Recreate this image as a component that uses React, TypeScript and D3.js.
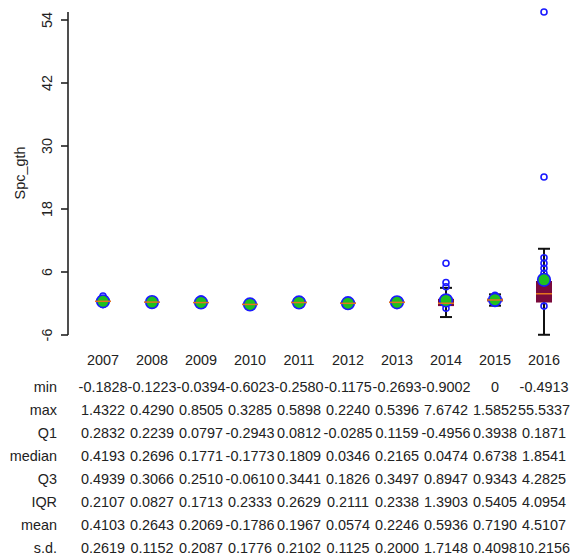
import React from "react";
import * as d3 from "d3";

const years = ["2007", "2008", "2009", "2010", "2011", "2012", "2013", "2014", "2015", "2016"];
const minV = [-0.1828, -0.1223, -0.0394, -0.6023, -0.258, -0.1175, -0.2693, -0.9002, 0, -0.4913];
const maxV = [1.4322, 0.429, 0.8505, 0.3285, 0.5898, 0.224, 0.5396, 7.6742, 1.5852, 55.5337];
const q1V = [0.2832, 0.2239, 0.0797, -0.2943, 0.0812, -0.0285, 0.1159, -0.4956, 0.3938, 0.1871];
const medianV = [0.4193, 0.2696, 0.1771, -0.1773, 0.1809, 0.0346, 0.2165, 0.0474, 0.6738, 1.8541];
const q3V = [0.4939, 0.3066, 0.251, -0.061, 0.3441, 0.1826, 0.3497, 0.8947, 0.9343, 4.2825];
const iqrV = [0.2107, 0.0827, 0.1713, 0.2333, 0.2629, 0.2111, 0.2338, 1.3903, 0.5405, 4.0954];
const meanV = [0.4103, 0.2643, 0.2069, -0.1786, 0.1967, 0.0574, 0.2246, 0.5936, 0.719, 4.5107];
const sdV = [0.2619, 0.1152, 0.2087, 0.1776, 0.2102, 0.1125, 0.2, 1.7148, 0.4098, 10.2156];

// extra observations that show outside the mean dot
const extraPoints = [[], [], [], [], [], [], [], [4.0, 3.2], [], [24.1, 8.72, 7.66, 6.7, 5.75]];

const yTicks = [-6, 6, 18, 30, 42, 54];

const statRows: [string, number[]][] = [
  ["min", minV],
  ["max", maxV],
  ["Q1", q1V],
  ["median", medianV],
  ["Q3", q3V],
  ["IQR", iqrV],
  ["mean", meanV],
  ["s.d.", sdV],
];

const fmt = (v: number) => (v === 0 ? "0" : v.toFixed(4));

export default function App() {
  const y = d3.scaleLinear().domain([-6, 54]).range([335, 20]);
  const x = d3.scalePoint<string>().domain(years).range([103, 544]);
  const boxW = 16;
  const capW = 12;
  const font = "'Liberation Sans', Arial, sans-serif";
  const fs = 14.4;
  const axisTop = y(d3.max(maxV) as number);

  return (
    <svg
      width={571}
      height={555}
      style={{ position: "absolute", left: 0, top: 0, background: "#fff" }}
      fontFamily={font}
    >
      {/* y axis */}
      <line x1={68} x2={68} y1={axisTop} y2={y(-6)} stroke="#222" strokeWidth={1.6} />
      {yTicks.map((t) => (
        <g key={t}>
          <line x1={61} x2={68} y1={y(t)} y2={y(t)} stroke="#222" strokeWidth={1.6} />
          <text
            transform={`translate(52,${y(t)}) rotate(-90)`}
            textAnchor="middle"
            fontSize={fs}
            fill="#222"
          >
            {t}
          </text>
        </g>
      ))}
      <text transform="translate(25,173) rotate(-90)" textAnchor="middle" fontSize={fs} fill="#222">
        Spc_gth
      </text>

      {/* boxes */}
      {years.map((yr, i) => {
        const cx = x(yr) as number;
        const hi = q3V[i] + 1.5 * iqrV[i];
        const lo = q1V[i] - 1.5 * iqrV[i];
        const pts = [minV[i], maxV[i], ...extraPoints[i]];
        return (
          <g key={yr}>
            <rect
              x={cx - boxW / 2}
              width={boxW}
              y={y(q3V[i])}
              height={y(q1V[i]) - y(q3V[i])}
              fill="#7a0a3c"
            />
            <line x1={cx} x2={cx} y1={y(q3V[i])} y2={y(hi)} stroke="#111" strokeWidth={2} />
            <line x1={cx} x2={cx} y1={y(q1V[i])} y2={y(lo)} stroke="#111" strokeWidth={2} />
            <line x1={cx - capW / 2} x2={cx + capW / 2} y1={y(hi)} y2={y(hi)} stroke="#111" strokeWidth={2} />
            <line x1={cx - capW / 2} x2={cx + capW / 2} y1={y(lo)} y2={y(lo)} stroke="#111" strokeWidth={2} />
            {pts.map((p, j) => (
              <circle key={j} cx={cx} cy={y(p)} r={3} fill="none" stroke="#1a1aff" strokeWidth={1.6} />
            ))}
            <circle cx={cx} cy={y(meanV[i])} r={6.3} fill="#1fc01f" stroke="#1a1aff" strokeWidth={1.6} />
            <line
              x1={cx - boxW / 2}
              x2={cx + boxW / 2}
              y1={y(medianV[i])}
              y2={y(medianV[i])}
              stroke="#e4731e"
              strokeWidth={1.5}
            />
          </g>
        );
      })}

      {/* stats table */}
      {years.map((yr) => (
        <text key={yr} x={x(yr)} y={365} textAnchor="middle" fontSize={fs} fill="#222">
          {yr}
        </text>
      ))}
      {statRows.map(([label, vals], r) => {
        const ty = 392 + r * 23;
        return (
          <g key={label}>
            <text x={57} y={ty} textAnchor="end" fontSize={fs} fill="#222">
              {label}
            </text>
            {vals.map((v, i) => (
              <text key={i} x={x(years[i])} y={ty} textAnchor="middle" fontSize={fs} fill="#222">
                {fmt(v)}
              </text>
            ))}
          </g>
        );
      })}
    </svg>
  );
}
